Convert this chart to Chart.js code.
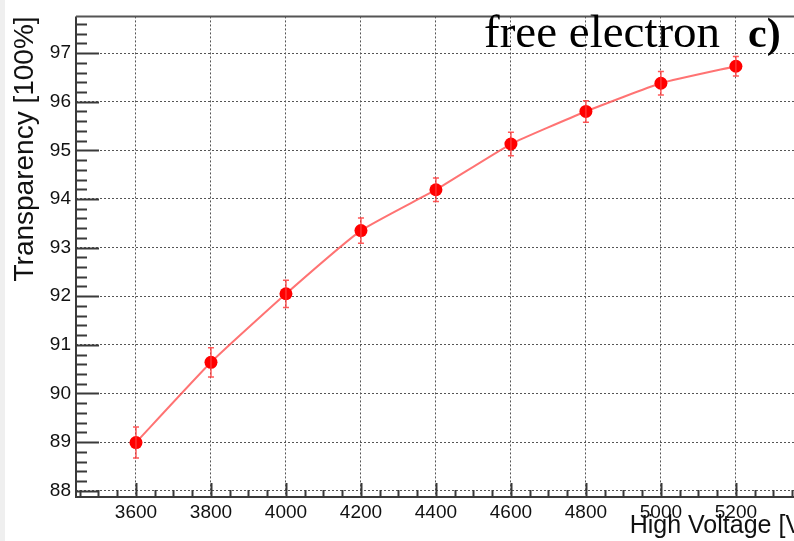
<!DOCTYPE html>
<html>
<head>
<meta charset="utf-8">
<script src="https://cdn.jsdelivr.net/npm/chart.js@4/dist/chart.umd.min.js"></script>
<style>
  html, body { margin: 0; padding: 0; background: #fff; }
  #wrap { position: relative; width: 794px; height: 541px; overflow: hidden; }
  #strip { position: absolute; left: 0; top: 0; width: 5px; height: 541px; background: #efefef; }
  #c { position: absolute; left: 0; top: 0; }
</style>
</head>
<body>
<div id="wrap">
  <div id="strip"></div>
  <canvas id="c" width="826" height="541"></canvas>
</div>
<script>
  "use strict";

  // measured points (high voltage vs transparency)
  var voltage = [3600, 3800, 4000, 4200, 4400, 4600, 4800, 5000, 5200];
  var transparency = [88.99, 90.64, 92.05, 93.35, 94.19, 95.13, 95.80, 96.38, 96.73];
  var errors = [0.32, 0.30, 0.28, 0.26, 0.24, 0.24, 0.22, 0.24, 0.20];

  var xRange = [3440, 5395];
  var yRange = [87.87, 97.755];

  var axisFont = "'Liberation Sans', Arial, sans-serif";
  var darkGrey = '#3a3a3a';

  // ROOT style tick marks drawn inside the frame, plus the axis lines
  var innerTicks = {
    id: 'innerTicks',
    beforeDatasetsDraw: function(chart) {
      var ctx = chart.ctx, area = chart.chartArea;
      var xs = chart.scales.x, ys = chart.scales.y;
      ctx.save();
      ctx.strokeStyle = darkGrey;
      ctx.lineWidth = 2;
      ctx.beginPath();
      for (var v = 3450; v <= xRange[1]; v += 50) {
        var px = Math.round(xs.getPixelForValue(v)) + 0.5;
        var len = (v % 200 === 0) ? 14 : 7;
        ctx.moveTo(px, area.bottom);
        ctx.lineTo(px, area.bottom - len);
      }
      for (var i = 0; i <= 50; i++) {
        var yv = 87.8 + i * 0.2;
        if (yv < yRange[0] || yv > yRange[1]) continue;
        var py = Math.round(ys.getPixelForValue(yv)) + 0.5;
        var major = Math.abs(yv - Math.round(yv)) < 1e-6;
        ctx.moveTo(area.left, py);
        ctx.lineTo(area.left + (major ? 23 : 11), py);
      }
      ctx.stroke();
      // frame: left, bottom, top
      ctx.beginPath();
      ctx.moveTo(chart.width, area.bottom);
      ctx.lineTo(area.left, area.bottom);
      ctx.lineTo(area.left, area.top);
      ctx.stroke();
      ctx.strokeStyle = '#555';
      ctx.beginPath();
      ctx.moveTo(area.left, area.top);
      ctx.lineTo(chart.width, area.top);
      ctx.stroke();
      ctx.restore();
    }
  };

  // vertical error bars with small caps
  var errorBars = {
    id: 'errorBars',
    afterDatasetsDraw: function(chart) {
      var ctx = chart.ctx, ys = chart.scales.y;
      var meta = chart.getDatasetMeta(0);
      ctx.save();
      ctx.strokeStyle = 'rgba(255,60,60,0.85)';
      ctx.lineWidth = 1.5;
      meta.data.forEach(function(pt, i) {
        var top = ys.getPixelForValue(transparency[i] + errors[i]);
        var bot = ys.getPixelForValue(transparency[i] - errors[i]);
        ctx.beginPath();
        ctx.moveTo(pt.x, top); ctx.lineTo(pt.x, bot);
        ctx.moveTo(pt.x - 3, top); ctx.lineTo(pt.x + 3, top);
        ctx.moveTo(pt.x - 3, bot); ctx.lineTo(pt.x + 3, bot);
        ctx.stroke();
      });
      ctx.restore();
    }
  };

  // labels in the top right corner
  var cornerText = {
    id: 'cornerText',
    afterDraw: function(chart) {
      var ctx = chart.ctx;
      ctx.save();
      ctx.fillStyle = '#000';
      ctx.textBaseline = 'alphabetic';
      ctx.textAlign = 'left';
      ctx.font = "47px 'Liberation Serif', 'Times New Roman', serif";
      ctx.fillText('free electron', 484, 47);
      ctx.font = "bold 42px 'Liberation Serif', 'Times New Roman', serif";
      ctx.fillText('c)', 748, 47);
      ctx.restore();
    }
  };

  var points = voltage.map(function(v, i) { return { x: v, y: transparency[i] }; });
  var plain = function(value) { return String(value); };

  new Chart(document.getElementById('c').getContext('2d'), {
    type: 'line',
    data: {
      datasets: [{
        data: points,
        borderColor: 'rgba(255,80,80,0.8)',
        borderWidth: 2,
        tension: 0.15,
        pointRadius: 6.5,
        pointHoverRadius: 6.5,
        pointBackgroundColor: '#ff0000',
        pointBorderColor: '#ff0000',
        pointBorderWidth: 0,
        fill: false
      }]
    },
    options: {
      responsive: false,
      animation: false,
      devicePixelRatio: 1,
      layout: { padding: { top: 12, right: 17, left: 0, bottom: 0 } },
      plugins: { legend: { display: false }, tooltip: { enabled: false } },
      scales: {
        x: {
          type: 'linear',
          min: xRange[0],
          max: xRange[1],
          afterFit: function(s) { s.height = 44; },
          ticks: {
            stepSize: 200,
            includeBounds: false,
            autoSkip: false,
            maxRotation: 0,
            padding: 4,
            color: '#111',
            callback: plain,
            font: { family: axisFont, size: 19 }
          },
          grid: { color: '#555', lineWidth: 1, drawTicks: false },
          border: { display: false, dash: [2, 2] },
          title: {
            display: true,
            text: 'High Voltage [V]',
            align: 'end',
            color: '#111',
            padding: { top: 0, bottom: 0 },
            font: { family: axisFont, size: 25 }
          }
        },
        y: {
          min: yRange[0],
          max: yRange[1],
          afterFit: function(s) { s.width = 76; },
          ticks: {
            stepSize: 1,
            includeBounds: false,
            padding: 5,
            color: '#111',
            callback: plain,
            font: { family: axisFont, size: 19 }
          },
          grid: { color: '#555', lineWidth: 1, drawTicks: false },
          border: { display: false, dash: [2, 2] },
          title: {
            display: true,
            text: 'Transparency [100%]',
            align: 'end',
            color: '#111',
            padding: { top: 8, bottom: 0 },
            font: { family: axisFont, size: 28 }
          }
        }
      }
    },
    plugins: [innerTicks, errorBars, cornerText]
  });
</script>
</body>
</html>
